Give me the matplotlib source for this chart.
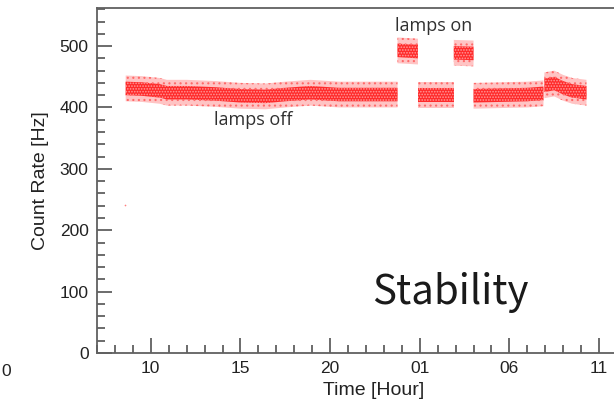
import matplotlib
matplotlib.use("Agg")
import matplotlib.pyplot as plt
from matplotlib.ticker import MultipleLocator, FixedLocator

# ---- data (hours since midnight of day 1; 25 = 01h next day) ----
# lamps-off segments: sample times and mean count rate
off1_t = [8.6, 9.5, 10.5, 10.9, 12.0, 13.6, 15.0, 16.4, 17.5, 18.9, 20.5, 22.0, 23.76]
off1_v = [431, 430, 427, 424, 424, 422, 419, 418, 421, 424, 421, 421, 421]
off2_t = [24.9, 26.0, 26.9]
off2_v = [420, 420, 420]
off3_t = [28.0, 29.5, 31.0, 31.9]
off3_v = [419, 420, 421, 423]
off4_t = [31.95, 32.5, 33.0, 33.5, 34.3]
off4_v = [436, 439, 432, 427, 424]
# lamps-on segments
on1_t = [23.76, 24.9]
on1_v = [493, 491]
on2_t = [26.9, 28.0]
on2_v = [489, 488]
# single outlier point
outlier_t = [8.56]
outlier_v = [241]

core_hw = 11     # half-width of dense band [Hz]
outer_hw = 21    # half-width of sparse scatter [Hz]

xtick_pos = [10, 15, 20, 25, 30, 35]
xtick_lbl = ["10", "15", "20", "01", "06", "11"]

plt.rcParams["hatch.linewidth"] = 0.8

W, H = 614, 403
fig = plt.figure(figsize=(W / 100, H / 100), dpi=100)
ax = fig.add_axes([97 / W, 1 - 353 / H, (W - 97) / W, (353 - 8) / H])

x0 = 7.0
x1 = x0 + (W - 97) / 17.93
ax.set_xlim(x0, x1)
ax.set_ylim(0, 562)

segs = [(off1_t, off1_v), (off2_t, off2_v), (off3_t, off3_v), (off4_t, off4_v),
        (on1_t, on1_v), (on2_t, on2_v)]
for t, v in segs:
    lo_o = [a - outer_hw for a in v]
    hi_o = [a + outer_hw for a in v]
    lo_c = [a - core_hw for a in v]
    hi_c = [a + core_hw for a in v]
    ax.fill_between(t, lo_o, hi_o, facecolor="#ffc4c4", edgecolor="#ff6a6a",
                    hatch="...", lw=0)
    ax.fill_between(t, lo_c, hi_c, facecolor="#ff2a2a", edgecolor="#ff9a9a",
                    hatch="......", lw=0)
ax.scatter(outlier_t, outlier_v, s=1.5, color="#ff8080", lw=0)

ax.spines["right"].set_visible(False)
for side in ["left", "bottom", "top"]:
    ax.spines[side].set_color("#606060")
    ax.spines[side].set_linewidth(1.3)

ax.xaxis.set_major_locator(FixedLocator(xtick_pos))
ax.set_xticklabels(xtick_lbl)
ax.xaxis.set_minor_locator(MultipleLocator(1))
ax.set_yticks([0, 100, 200, 300, 400, 500])
ax.yaxis.set_minor_locator(MultipleLocator(20))
ax.tick_params(which="major", direction="in", length=11, width=1.3, color="#606060",
               labelsize=12.5, pad=6)
ax.tick_params(which="minor", direction="in", length=6, width=1.3, color="#606060")
ax.tick_params(top=False, right=False, which="both")
for lbl in ax.get_xticklabels() + ax.get_yticklabels():
    lbl.set_family("Liberation Sans")
    lbl.set_color("#222222")

ax.set_xlabel("Time [Hour]", family="Liberation Sans", fontsize=14, color="#222222")
ax.xaxis.set_label_coords(0.536, -0.084)
ax.set_ylabel("Count Rate [Hz]", family="Liberation Sans", fontsize=14, color="#222222")
ax.yaxis.set_label_coords(-0.093, 0.5)

ax.text(15.7, 379, "lamps off", family="Open Sans", fontsize=13, color="#303030",
        ha="center", va="center")
ax.text(25.8, 533, "lamps on", family="Open Sans", fontsize=13, color="#303030",
        ha="center", va="center")
ax.text(26.7, 99, "Stability", family=["Noto Sans CJK SC", "DejaVu Sans"],
        fontsize=29, color="#1a1a1a", ha="center", va="center", weight="light")

fig.text(1 / W, 1 - 372 / H, "0", family="Liberation Sans", fontsize=12.5,
         color="#222222", ha="left", va="center")

fig.savefig("out.png", dpi=100)
